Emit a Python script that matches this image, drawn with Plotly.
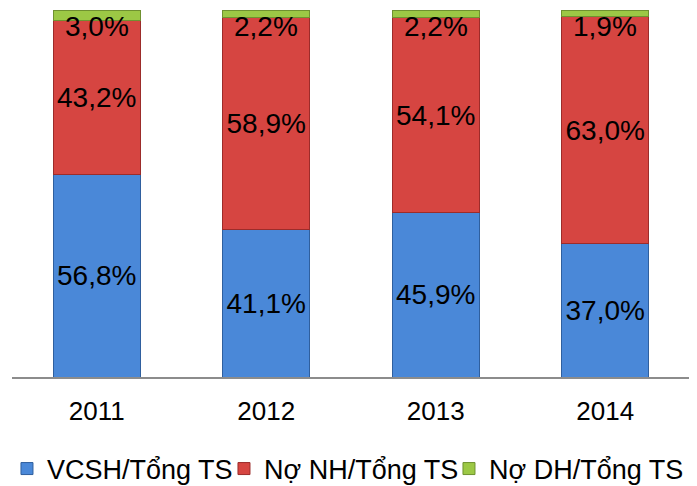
import plotly.graph_objects as go

years = ["2011", "2012", "2013", "2014"]
vcsh = [56.8, 41.1, 45.9, 37.0]
no_nh = [43.2, 58.9, 54.1, 63.0]
no_dh = [3.0, 2.2, 2.2, 1.9]
series_names = ["VCSH/Tổng TS", "Nợ NH/Tổng TS", "Nợ DH/Tổng TS"]

def fmt(v):
    return f"{v:.1f}".replace(".", ",") + "%"

FONT = "Arial, Liberation Sans, sans-serif"

fig = go.Figure()
fig.add_trace(go.Bar(
    x=years, y=vcsh, name=series_names[0], legendwidth=172,
    marker=dict(color="#4a88d8", line=dict(color="#2f5f9e", width=1)),
    text=[fmt(v) for v in vcsh], textposition="inside", insidetextanchor="middle",
    textfont=dict(size=28, color="black", family=FONT), constraintext="none",
))
fig.add_trace(go.Bar(
    x=years, y=no_nh, name=series_names[1], legendwidth=180,
    marker=dict(color="#d64541", line=dict(color="#9c2c2a", width=1)),
    text=[fmt(v) for v in no_nh], textposition="inside", insidetextanchor="middle",
    textfont=dict(size=28, color="black", family=FONT), constraintext="none",
))
fig.add_trace(go.Bar(
    x=years, y=no_dh, name=series_names[2], legendwidth=196,
    marker=dict(color="#9cc845", line=dict(color="#6f9130", width=1)),
    textposition="none",
))

# labels of the thin top segment, placed just below the top of each bar
for i, v in enumerate(no_dh):
    fig.add_annotation(x=i, y=100, xref="x", yref="y", text=fmt(v), showarrow=False,
                       yanchor="top", yshift=1,
                       font=dict(size=28, color="black", family=FONT))

# the page body adds an 8px offset, margins compensate for it
fig.update_layout(
    barmode="stack", barnorm="percent", bargap=0.487,
    width=697, height=486,
    margin=dict(l=4, r=15, t=2, b=117, autoexpand=False),
    paper_bgcolor="white", plot_bgcolor="white",
    font=dict(family=FONT, color="black"),
    xaxis=dict(type="category", showline=True, linecolor="#8c8c8c", linewidth=2, ticks="",
               tickfont=dict(size=26, family=FONT), showgrid=False, ticklabelstandoff=10),
    yaxis=dict(visible=False, range=[0, 100], showgrid=False),
    legend=dict(orientation="h", x=-0.0074, xanchor="left", y=-0.2507, yanchor="middle",
                font=dict(size=27, family=FONT),
                traceorder="normal", itemwidth=30),
    showlegend=True,
)

fig.write_html("out.html")
